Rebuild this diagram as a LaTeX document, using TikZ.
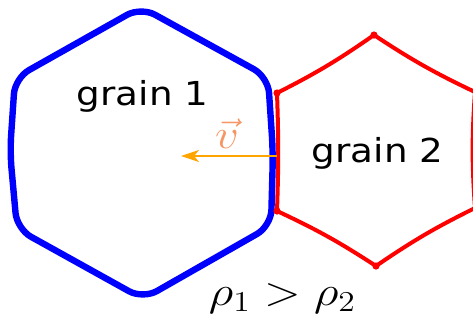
\documentclass[tikz,border=0pt]{standalone}
\usepackage{fontspec}
\newfontfamily\grainfont{DejaVu Sans}
\usetikzlibrary{arrows.meta}
\definecolor{velorange}{RGB}{255,165,0}
\definecolor{vellabel}{RGB}{245,150,100}
\newcommand{\widetext}[1]{\scalebox{1.13}[1]{#1}}

\begin{document}
\begin{tikzpicture}[
x=0.5pt,y=-0.5pt,
grainone/.style={draw=blue,line width=3.2pt,rounded corners=8pt,line join=round},
graintwo/.style={draw=red,line width=2pt},
junction/.style={circle,fill=red,inner sep=0pt,minimum size=3.6pt},
graintext/.style={anchor=base,inner sep=0pt,font=\grainfont\fontsize{16.5}{18}\selectfont},
mathtext/.style={anchor=base,inner sep=0pt,font=\fontsize{21.5}{24}\selectfont},
vel/.style={-{Stealth[length=9pt,width=6pt,inset=2.5pt]},draw=velorange,line width=1pt}
]
\useasboundingbox (0,0) rectangle (473,323);
% grain 1 corners
\coordinate (bT) at (141,7);
\coordinate (bUL) at (15,78);
\coordinate (bL) at (10,152);
\coordinate (bLL) at (17,229);
\coordinate (bB) at (143,299);
\coordinate (bLR) at (271,226);
\coordinate (bR) at (273,152);
\coordinate (bUR) at (268,77);
% grain 2 corners
\coordinate (rT) at (374,35);
\coordinate (rUL) at (277,93);
\coordinate (rLL) at (277,211);
\coordinate (rB) at (376,266);
\coordinate (rLR) at (475,208);
\coordinate (rUR) at (475,92);

\draw[grainone] (bT) -- (bUL) -- (bL) -- (bLL) -- (bB) -- (bLR) -- (bR) -- (bUR) -- cycle;
\draw[graintwo] (rT) to[bend left=4] (rUL) to[bend left=2] (rLL) to[bend left=4] (rB)
  to[bend left=4] (rLR) to[bend left=4] (rUR) to[bend left=4] (rT);
\foreach \c in {rT,rUL,rLL,rB} \node[junction] at (\c) {};

\node[graintext] (gone) at (142.5,105) {\widetext{grain 1}};
\node[graintext] (gtwo) at (377.5,162) {\widetext{grain 2}};
\node[mathtext] (rho) at (282.5,305) {\scalebox{1.16}[1]{$\rho_1>\rho_2$}};

\coordinate (vstart) at (277,156);
\coordinate (vend) at (181,156);
\draw[vel] (vstart) -- (vend);
\node[mathtext,text=vellabel] (vlab) at (227,148) {\widetext{$\vec{v}$}};
\end{tikzpicture}
\end{document}
